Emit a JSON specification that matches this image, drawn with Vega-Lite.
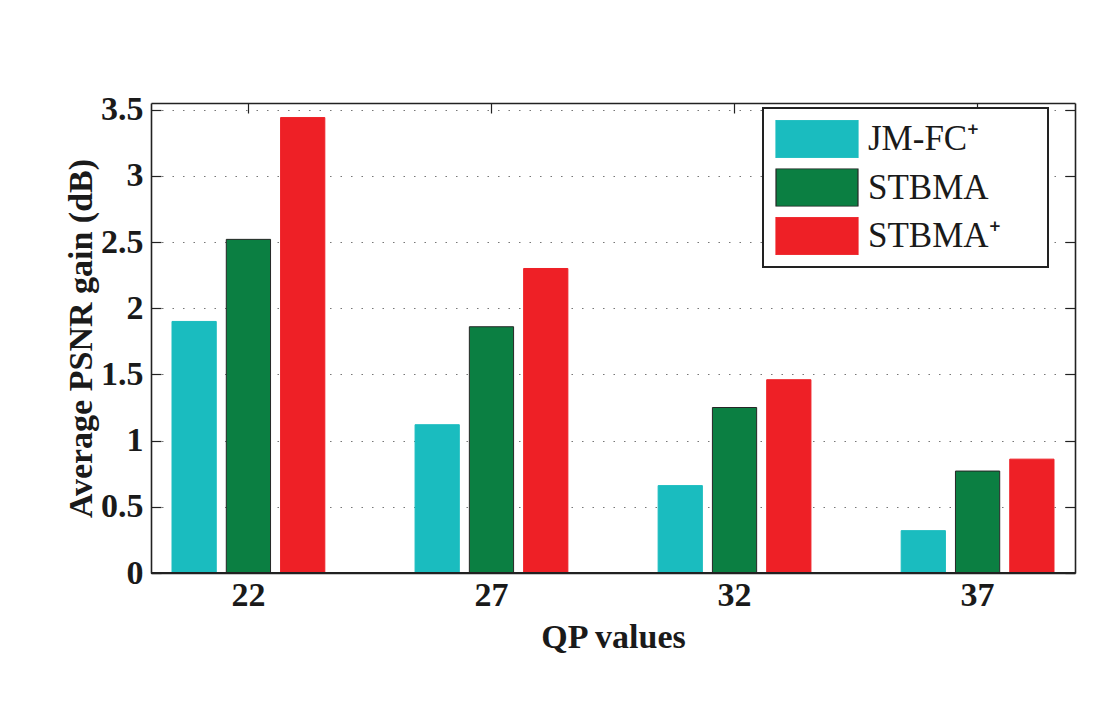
{
  "$schema": "https://vega.github.io/schema/vega-lite/v6.json",
  "width": 924,
  "height": 470,
  "autosize": {"type": "none"},
  "padding": {"left": 151, "top": 103, "right": 36, "bottom": 142},
  "background": "white",
  "data": {
    "values": [
      {"qp": "22", "method": "JM-FC⁺", "gain": 1.9},
      {"qp": "22", "method": "STBMA", "gain": 2.52},
      {"qp": "22", "method": "STBMA⁺", "gain": 3.44},
      {"qp": "27", "method": "JM-FC⁺", "gain": 1.12},
      {"qp": "27", "method": "STBMA", "gain": 1.86},
      {"qp": "27", "method": "STBMA⁺", "gain": 2.3},
      {"qp": "32", "method": "JM-FC⁺", "gain": 0.66},
      {"qp": "32", "method": "STBMA", "gain": 1.25},
      {"qp": "32", "method": "STBMA⁺", "gain": 1.46},
      {"qp": "37", "method": "JM-FC⁺", "gain": 0.32},
      {"qp": "37", "method": "STBMA", "gain": 0.77},
      {"qp": "37", "method": "STBMA⁺", "gain": 0.86}
    ]
  },
  "config": {
    "font": "Liberation Serif",
    "view": {"stroke": null},
    "axis": {
      "labelFont": "Liberation Serif",
      "titleFont": "Liberation Serif",
      "labelFontSize": 34,
      "titleFontSize": 34,
      "labelFontWeight": "bold",
      "titleFontWeight": "bold",
      "labelColor": "#1a1a1a",
      "titleColor": "#1a1a1a",
      "domainColor": "#222222",
      "domainWidth": 1.6,
      "tickColor": "#222222",
      "tickWidth": 1.2
    },
    "legend": {"strokeWidth": 2}
  },
  "resolve": {"axis": {"x": "independent", "y": "independent"}},
  "layer": [
    {
      "mark": {"type": "bar", "strokeWidth": 1},
      "encoding": {
        "x": {
          "field": "qp",
          "type": "nominal",
          "scale": {"paddingInner": 0.33, "paddingOuter": 0.0658},
          "axis": {
            "orient": "bottom",
            "title": "QP values",
            "labelAngle": 0,
            "tickSize": -10,
            "labelPadding": 15,
            "titlePadding": 8,
            "grid": false
          }
        },
        "xOffset": {
          "field": "method",
          "type": "nominal",
          "scale": {"domain": ["JM-FC⁺", "STBMA", "STBMA⁺"], "paddingInner": 0.185, "paddingOuter": 0.0925}
        },
        "y": {
          "field": "gain",
          "type": "quantitative",
          "scale": {"domain": [0, 3.55], "nice": false},
          "axis": {
            "orient": "left",
            "title": "Average PSNR gain (dB)",
            "values": [0, 0.5, 1, 1.5, 2, 2.5, 3, 3.5],
            "format": "~g",
            "grid": true,
            "gridDash": [1.5, 9],
            "gridColor": "#777777",
            "gridWidth": 1.2,
            "tickSize": -10,
            "labelPadding": 18,
            "titlePadding": 2
          }
        },
        "color": {
          "field": "method",
          "type": "nominal",
          "scale": {"domain": ["JM-FC⁺", "STBMA", "STBMA⁺"], "range": ["#1ABCBF", "#0B7F42", "#EE2026"]},
          "legend": {
            "title": null,
            "orient": "none",
            "legendX": 612,
            "legendY": 5,
            "symbolType": "M-1,-0.46H1V0.46H-1Z",
            "symbolSize": 6724,
            "symbolStrokeWidth": 1.2,
            "symbolOpacity": 1,
            "clipHeight": 38,
            "labelFont": "Liberation Serif",
            "labelFontSize": 35,
            "labelFontWeight": "normal",
            "labelColor": "#1a1a1a",
            "labelOffset": 9,
            "labelLimit": 400,
            "labelExpr": "datum.label + '\u00a0\u2800'",
            "rowPadding": 10.5,
            "padding": 12,
            "strokeColor": "#222222",
            "fillColor": "white"
          }
        },
        "stroke": {
          "field": "method",
          "type": "nominal",
          "scale": {"domain": ["JM-FC⁺", "STBMA", "STBMA⁺"], "range": ["#1ABCBF", "#262626", "#EE2026"]},
          "legend": {
            "title": null,
            "orient": "none",
            "legendX": 612,
            "legendY": 5,
            "symbolType": "M-1,-0.46H1V0.46H-1Z",
            "symbolSize": 6724,
            "symbolStrokeWidth": 1.2,
            "clipHeight": 38,
            "labelFont": "Liberation Serif",
            "labelFontSize": 35,
            "labelFontWeight": "normal",
            "labelColor": "#1a1a1a",
            "labelOffset": 9,
            "labelLimit": 400,
            "labelExpr": "datum.label + '\u00a0\u2800'",
            "rowPadding": 10.5,
            "padding": 12,
            "strokeColor": "#222222",
            "fillColor": "white"
          }
        }
      }
    },
    {
      "mark": {"type": "bar", "opacity": 0},
      "encoding": {
        "x": {
          "field": "qp",
          "type": "nominal",
          "axis": {"orient": "top", "title": null, "labels": false, "tickSize": -10, "grid": false}
        },
        "xOffset": {"field": "method", "type": "nominal"},
        "y": {
          "field": "gain",
          "type": "quantitative",
          "axis": {
            "orient": "right",
            "title": null,
            "labels": false,
            "values": [0, 0.5, 1, 1.5, 2, 2.5, 3, 3.5],
            "grid": false,
            "tickSize": -10
          }
        }
      }
    },
    {
      "mark": {"type": "rule", "color": "#222222", "strokeWidth": 1.6},
      "encoding": {
        "y": {"datum": 0, "type": "quantitative", "axis": null}
      }
    }
  ]
}
